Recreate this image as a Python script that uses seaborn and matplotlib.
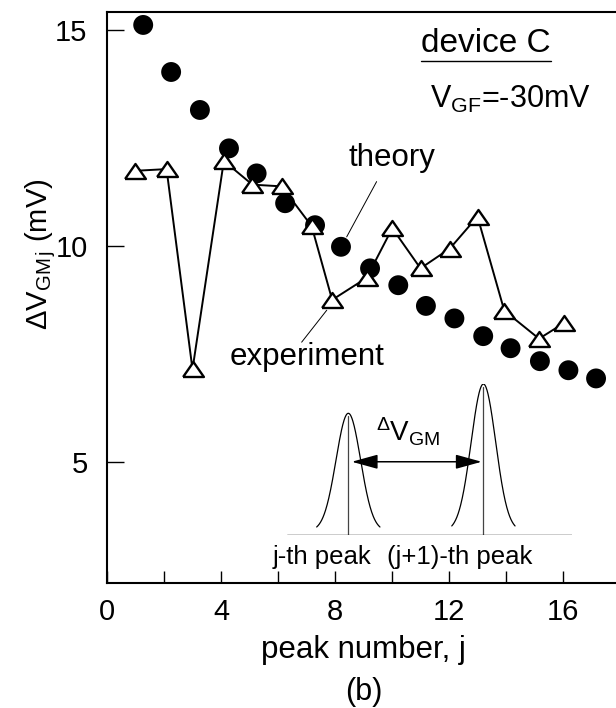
import numpy as np
import matplotlib
matplotlib.use("Agg")
import matplotlib.pyplot as plt
from matplotlib.ticker import MultipleLocator
from matplotlib.lines import Line2D
import seaborn as sns

# data
theory_x = [1.27, 2.25, 3.26, 4.28, 5.25, 6.25, 7.30, 8.21, 9.23, 10.22, 11.19, 12.19, 13.20, 14.16, 15.19, 16.19, 17.16]
theory_y = [15.12, 14.03, 13.15, 12.26, 11.68, 10.99, 10.48, 9.98, 9.48, 9.09, 8.61, 8.32, 7.91, 7.63, 7.33, 7.12, 6.93]
exp_x = [0.98, 2.09, 3.00, 4.10, 5.10, 6.13, 7.18, 7.90, 9.11, 10.01, 11.00, 12.03, 13.00, 13.94, 15.16, 16.05]
exp_y = [11.74, 11.78, 7.14, 11.97, 11.42, 11.38, 10.46, 8.75, 9.26, 10.41, 9.48, 9.94, 10.68, 8.50, 7.85, 8.22]
xticks = [0, 4, 8, 12, 16]
yticks = [5, 10, 15]

sns.set_style("ticks")
plt.rcParams["font.family"] = ["Liberation Sans", "DejaVu Sans"]
plt.rcParams["mathtext.fontset"] = "custom"
plt.rcParams["mathtext.rm"] = "Liberation Sans"
plt.rcParams["mathtext.it"] = "Liberation Sans:italic"
plt.rcParams["mathtext.bf"] = "Liberation Sans:bold"
for k in ["text.color", "axes.labelcolor", "axes.edgecolor", "xtick.color", "ytick.color"]:
    plt.rcParams[k] = "black"

fig = plt.figure(figsize=(6.16, 7.08), dpi=100)
ax = fig.add_axes([107 / 616, 125 / 708, 513 / 616, 571 / 708])

# flat triangle marker
tri = [(-1, -0.72), (1, -0.72), (0, 0.72), (-1, -0.72)]

sns.scatterplot(x=theory_x, y=theory_y, s=205, color="black", edgecolor="none", ax=ax, zorder=2)
sns.lineplot(x=exp_x, y=exp_y, estimator=None, sort=False, color="black", lw=1.4,
             marker=tri, markersize=15, markerfacecolor="white", markeredgecolor="black",
             markeredgewidth=1.7, ax=ax, zorder=3)

ax.set_xlim(0, 18)
ax.set_ylim(2.19, 15.42)
ax.set_xticks(xticks)
ax.xaxis.set_minor_locator(MultipleLocator(2))
ax.set_yticks(yticks)
ax.tick_params(axis="x", which="both", direction="in", length=9, width=1, labelsize=21, pad=10.5)
ax.tick_params(axis="y", which="both", direction="in", length=12, width=1, labelsize=21, pad=14)
for s in ["top", "left", "bottom"]:
    ax.spines[s].set_linewidth(1.5)
ax.spines["right"].set_visible(False)

ax.set_xlabel("peak number, j", fontsize=22.5, labelpad=7)
ax.set_ylabel("ΔV$_{\\rm GM\\,j}$ (mV)", fontsize=21, va="center")
ax.yaxis.set_label_coords(-0.13, 0.576)

# labels with leader lines
ax.text(10.0, 12.03, "theory", fontsize=22.5, ha="center", va="center")
ax.annotate("", xy=(8.41, 10.21), xytext=(9.46, 11.49),
            arrowprops=dict(arrowstyle="-", lw=0.7, color="black", shrinkA=0, shrinkB=0))
ax.text(7.02, 7.43, "experiment", fontsize=22.5, ha="center", va="center")
ax.annotate("", xy=(7.71, 8.51), xytext=(6.83, 7.77),
            arrowprops=dict(arrowstyle="-", lw=0.7, color="black", shrinkA=0, shrinkB=0))

dev = ax.text(13.3, 14.50, "device C", fontsize=24, ha="center", va="baseline")
ax.text(14.14, 13.19, "V$_{\\rm GF}$=-30mV", fontsize=22, ha="center", va="baseline")

# schematic of two neighbouring peaks
ins = ax.inset_axes([0.3515, 0.0841, 0.5556, 0.2644])
ins.set_xlim(0, 10)
ins.set_ylim(0, 1)
ins.axis("off")
for c, top in [(2.14, 0.806), (6.88, 1.0)]:
    xs = np.linspace(c - 1.11, c + 1.11, 200)
    ys = 0.025 + (top - 0.025) * np.exp(-(xs - c) ** 2 / (2 * 0.43 ** 2))
    ins.plot(xs, ys, color="black", lw=0.9)
    ins.plot([c, c], [0, top - 0.02], color="#444444", lw=0.9)
ins.plot([0, 10], [0, 0], color="black", lw=1.0)
ins.annotate("", xy=(2.26, 0.485), xytext=(6.82, 0.485),
             arrowprops=dict(arrowstyle="<|-|>,head_length=0.8,head_width=0.22",
                             mutation_scale=20, lw=1.1, color="black", shrinkA=0, shrinkB=0))
ins.text(4.23, 0.68, "$^{\\Delta}$V$_{\\rm GM}$", fontsize=20, ha="center", va="center")
ins.text(1.2, -0.146, "j-th peak", fontsize=18.5, ha="center", va="center", clip_on=False)
ins.text(6.06, -0.146, "(j+1)-th peak", fontsize=18.5, ha="center", va="center", clip_on=False)

fig.text(364 / 616, 1 - 692 / 708, "(b)", fontsize=22, ha="center", va="center")

# underline "device C"
fig.canvas.draw()
bb = dev.get_window_extent()
uy = bb.y0 - 2
fig.add_artist(Line2D([bb.x0, bb.x1], [uy, uy], transform=None, color="black", lw=1.0))

fig.savefig("out.png", dpi=100)
